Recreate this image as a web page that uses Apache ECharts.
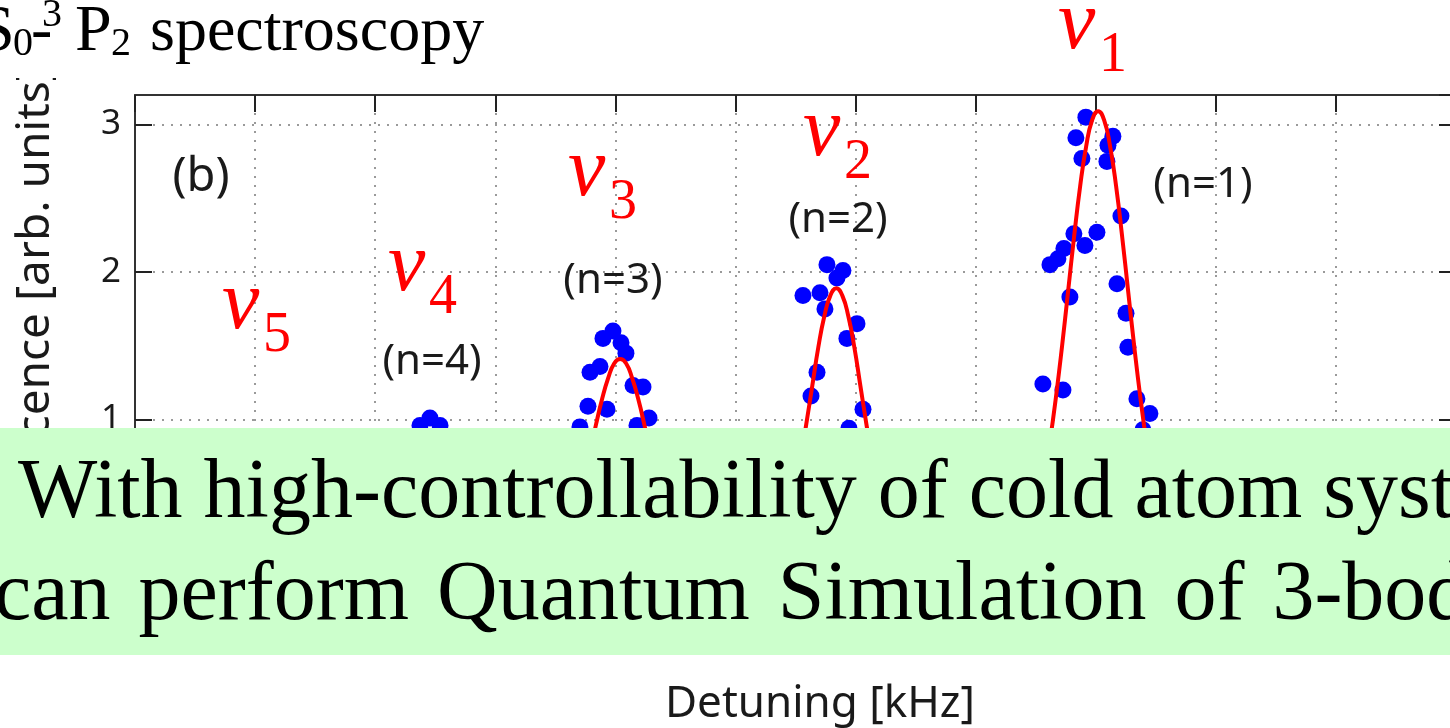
<!DOCTYPE html>
<html>
<head>
<meta charset="utf-8">
<script src="https://cdn.jsdelivr.net/npm/echarts@6/dist/echarts.min.js"></script>
<style>
  html, body { margin: 0; padding: 0; background: #ffffff; }
  #main { width: 1450px; height: 728px; }
</style>
</head>
<body>
<div id="main"></div>
<script>
// ---- measured points (detuning kHz, fluorescence arb. units) ----
const n1Points = [
  [-0.82, 3.05], [-1.65, 2.91], [1.43, 2.92], [1.02, 2.86], [-1.15, 2.77],
  [0.93, 2.75], [2.10, 2.38], [-1.82, 2.26], [0.10, 2.27], [-2.65, 2.16],
  [-0.90, 2.18], [-3.81, 2.05], [-3.15, 2.09], [1.77, 1.92], [-2.15, 1.83],
  [2.52, 1.72], [2.68, 1.49], [-4.40, 1.24], [-2.73, 1.20], [3.43, 1.14],
  [4.51, 1.04], [3.93, 0.93]
];
const n2Points = [
  [-22.38, 2.05], [-21.05, 2.01], [-21.55, 1.96], [-24.38, 1.84], [-22.96, 1.86],
  [-22.55, 1.75], [-19.88, 1.65], [-20.72, 1.55], [-23.21, 1.32], [-23.71, 1.16],
  [-19.38, 1.07], [-20.55, 0.94]
];
const n3Points = [
  [-40.20, 1.60], [-41.03, 1.55], [-39.53, 1.52], [-39.12, 1.45], [-41.28, 1.36],
  [-42.11, 1.32], [-38.53, 1.23], [-37.70, 1.22], [-42.28, 1.09], [-40.70, 1.07],
  [-42.95, 0.95], [-38.20, 0.96], [-37.20, 1.01]
];
const n4Points = [
  [-55.44, 1.01], [-56.27, 0.96], [-54.60, 0.96]
];

// ---- Gaussian fit curves, sampled ----
const n1Fit = [
  [-7.8, 0.02], [-6.8, 0.06], [-5.8, 0.17], [-4.8, 0.42], [-4.3, 0.61], [-3.8, 0.86],
  [-3.3, 1.16], [-2.8, 1.50], [-2.3, 1.87], [-1.8, 2.24], [-1.3, 2.58], [-0.8, 2.85],
  [-0.3, 3.03], [0.2, 3.09], [0.7, 3.03], [1.2, 2.85], [1.7, 2.58], [2.2, 2.24],
  [2.7, 1.87], [3.2, 1.50], [3.7, 1.16], [4.2, 0.86], [4.7, 0.61], [5.2, 0.42],
  [6.2, 0.17], [7.2, 0.06], [8.2, 0.02]
];
const n2Fit = [
  [-28.6, 0.01], [-27.6, 0.04], [-26.6, 0.13], [-25.6, 0.34], [-25.1, 0.51], [-24.6, 0.72],
  [-24.1, 0.97], [-23.6, 1.23], [-23.1, 1.49], [-22.6, 1.70], [-22.1, 1.84], [-21.6, 1.89],
  [-21.1, 1.84], [-20.6, 1.70], [-20.1, 1.49], [-19.6, 1.23], [-19.1, 0.97], [-18.6, 0.72],
  [-18.1, 0.51], [-17.6, 0.34], [-16.6, 0.13], [-15.6, 0.04], [-14.6, 0.01]
];
const n3Fit = [
  [-46.6, 0.01], [-45.6, 0.05], [-44.6, 0.13], [-43.6, 0.31], [-43.1, 0.44], [-42.6, 0.60],
  [-42.1, 0.78], [-41.6, 0.97], [-41.1, 1.14], [-40.6, 1.28], [-40.1, 1.38], [-39.6, 1.41],
  [-39.1, 1.38], [-38.6, 1.28], [-38.1, 1.14], [-37.6, 0.97], [-37.1, 0.78], [-36.6, 0.60],
  [-36.1, 0.44], [-35.6, 0.31], [-34.6, 0.13], [-33.6, 0.05], [-32.6, 0.01]
];
const n4Fit = [
  [-61.5, 0.03], [-60.5, 0.08], [-59.5, 0.19], [-58.5, 0.36], [-57.5, 0.58], [-56.5, 0.77],
  [-55.5, 0.85], [-54.5, 0.77], [-53.5, 0.58], [-52.5, 0.36], [-51.5, 0.19], [-50.5, 0.08],
  [-49.5, 0.03]
];

// ---- labels ----
const nuIndices = ['1', '2', '3', '4', '5'];
const nuAnchors = [[-3.14, 3.50], [-24.37, 2.77], [-43.94, 2.50], [-58.93, 1.86], [-72.76, 1.60]];
const peakLabels = ['(n=1)', '(n=2)', '(n=3)', '(n=4)'];
const peakLabelPos = [[8.93, 2.59], [-21.46, 2.35], [-40.2, 1.94], [-55.27, 1.39]];
const panelLabel = '(b)';
const panelLabelPos = [-74.5, 2.64];
const xAxisTitle = 'Detuning [kHz]';
const yAxisTitle = 'Fluorescence [arb. units]';
const noteLine1 = 'With high-controllability of cold atom system,';
const noteLine2Words = ['can', 'perform', 'Quantum', 'Simulation', 'of', '3-body'];

const AXIS_COLOR = '#333333';
const GRID_DOTS = { color: '#9a9a9a', width: 2, type: [2, 7] };
const SANS = '"Noto Sans", sans-serif';
const SERIF = '"Liberation Serif", "Times New Roman", serif';

const chart = echarts.init(document.getElementById('main'), null, { renderer: 'canvas' });

function axisCommon(extra) {
  return Object.assign({
    type: 'value',
    axisLine: { show: true, onZero: false, lineStyle: { color: AXIS_COLOR, width: 2 } },
    axisTick: { show: true, inside: true, length: 17, lineStyle: { color: '#222', width: 2 } }
  }, extra);
}

const pointStyle = { color: '#0000ff', opacity: 1 };
const fitStyle = { color: '#ff0000', width: 4 };

function scatter(data) {
  return { type: 'scatter', data, symbol: 'circle', symbolSize: 17, itemStyle: pointStyle, z: 2, silent: true };
}
function fit(data) {
  return { type: 'line', data, smooth: true, showSymbol: false, lineStyle: fitStyle, z: 3, silent: true };
}

chart.setOption({
  animation: false,
  backgroundColor: '#ffffff',
  grid: { left: 135, top: 95, width: 1321, height: 472, outerBoundsMode: 'none', containLabel: false },
  xAxis: [
    axisCommon({
      position: 'bottom', min: -80, max: 30, interval: 10,
      axisLabel: { color: '#1a1a1a', fontFamily: SANS, fontSize: 35, margin: 14 },
      splitLine: { show: true, showMinLine: false, showMaxLine: false, lineStyle: GRID_DOTS }
    }),
    axisCommon({
      position: 'top', min: -80, max: 30, interval: 10,
      axisLabel: { show: false }, splitLine: { show: false }
    })
  ],
  yAxis: [
    axisCommon({
      position: 'left', min: 0, max: 3.2, interval: 1,
      axisLabel: {
        color: '#1a1a1a', fontFamily: SANS, fontSize: 35, margin: 14,
        showMaxLabel: false,
        formatter: v => (Number.isInteger(v) ? String(v) : '')
      },
      splitLine: { show: true, showMinLine: false, showMaxLine: false, lineStyle: GRID_DOTS }
    }),
    axisCommon({
      position: 'right', min: 0, max: 3.2, interval: 1,
      axisLabel: { show: false }, splitLine: { show: false }
    })
  ],
  series: [
    scatter(n1Points), scatter(n2Points), scatter(n3Points), scatter(n4Points),
    fit(n1Fit), fit(n2Fit), fit(n3Fit), fit(n4Fit)
  ]
});

// ---- overlay text and annotations ----
const MID_K = 0.3; // baseline sits about this many em below the text's middle
function textAt(text, x, baseline, size, font, color, align, z, italic) {
  return {
    type: 'text', x, y: baseline - MID_K * size, z: z || 20,
    style: {
      text, font: (italic ? 'italic ' : '') + size + 'px ' + font, fill: color,
      align: align || 'left', verticalAlign: 'middle'
    }
  };
}
const px = p => chart.convertToPixel({ gridIndex: 0 }, p);

const graphics = [];

// white strip above the plot frame
graphics.push({ type: 'rect', shape: { x: 0, y: 0, width: 135, height: 78 }, style: { fill: '#ffffff' }, z: 15 });

// axis titles
graphics.push(textAt(xAxisTitle, 665, 718, 44, SANS, '#1a1a1a', 'left', 20));
graphics.push({
  type: 'text', x: 36, y: 66, rotation: Math.PI / 2, z: 12,
  style: { text: yAxisTitle, font: '46px ' + SANS, fill: '#1a1a1a', align: 'right', verticalAlign: 'middle' }
});

// panel and peak labels
const pb = px(panelLabelPos);
graphics.push({ type: 'text', x: pb[0], y: pb[1], z: 20,
  style: { text: panelLabel, font: '47px ' + SANS, fill: '#1a1a1a', align: 'center', verticalAlign: 'middle' } });
peakLabels.forEach((t, i) => {
  const p = px(peakLabelPos[i]);
  graphics.push({ type: 'text', x: p[0], y: p[1], z: 20,
    style: { text: t, font: '42px ' + SANS, fill: '#1a1a1a', align: 'center', verticalAlign: 'middle' } });
});

// ν_n resonance labels
nuIndices.forEach((d, i) => {
  const p = px(nuAnchors[i]);
  graphics.push(textAt('\u03bd', p[0], p[1], 84, SERIF, '#ff0000', 'left', 25, true));
  graphics.push(textAt(d, p[0] + 41, p[1] + 22, 56, SERIF, '#ff0000', 'left', 25));
});

// slide title  ¹S₀-³P₂ spectroscopy
graphics.push(textAt('1', -42, 27, 40, SERIF, '#000', 'left', 25));
graphics.push(textAt('S', -22, 52, 66, SERIF, '#000', 'left', 25));
graphics.push(textAt('0', 13, 56, 40, SERIF, '#000', 'left', 25));
graphics.push(textAt('-', 31, 52, 64, SERIF, '#000', 'left', 25));
graphics.push(textAt('3', 42, 27, 40, SERIF, '#000', 'left', 25));
graphics.push(textAt('P', 75, 52, 66, SERIF, '#000', 'left', 25));
graphics.push(textAt('2', 111, 56, 40, SERIF, '#000', 'left', 25));
graphics.push(textAt('spectroscopy', 150, 52, 64, SERIF, '#000', 'left', 25));

// green note box; second line is spread with a wider word gap
graphics.push({ type: 'rect', shape: { x: 0, y: 428, width: 1450, height: 227 }, style: { fill: '#ccffcc' }, z: 30 });
graphics.push(textAt(noteLine1, 18, 520, 84, SERIF, '#000', 'left', 31));
const measureCtx = document.createElement('canvas').getContext('2d');
measureCtx.font = '84px ' + SERIF;
let wordX = -6;
noteLine2Words.forEach(w => {
  graphics.push(textAt(w, wordX, 622, 84, SERIF, '#000', 'left', 31));
  wordX += measureCtx.measureText(w).width + 28;
});

chart.setOption({ graphic: { elements: graphics } });
</script>
</body>
</html>
